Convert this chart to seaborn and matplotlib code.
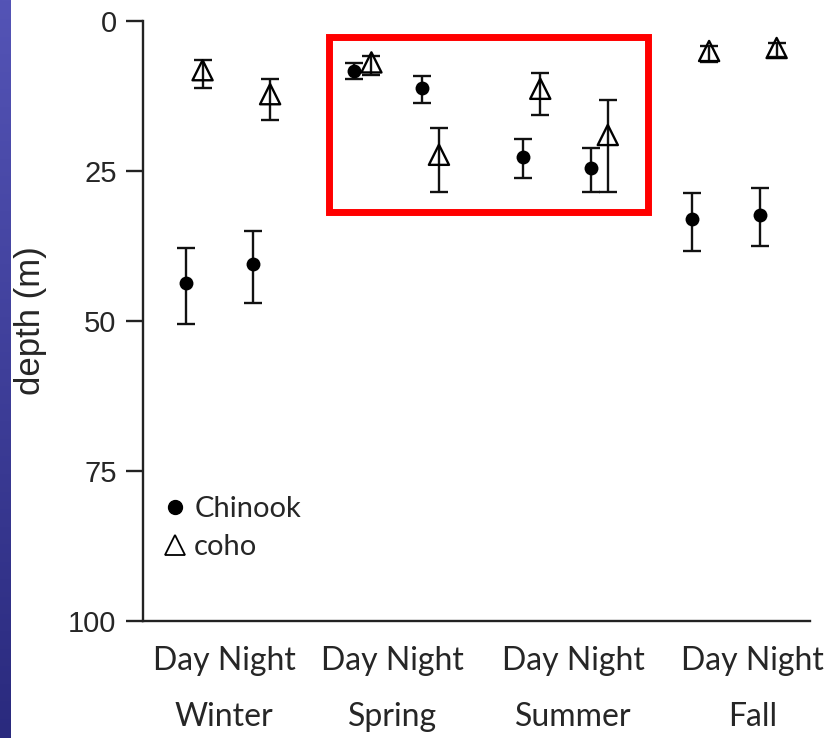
import numpy as np
import pandas as pd
import matplotlib
matplotlib.use("Agg")
import matplotlib.pyplot as plt
import seaborn as sns
from matplotlib.lines import Line2D
from matplotlib.patches import Rectangle

# ---- data ----
seasons = ["Winter", "Spring", "Summer", "Fall"]
times = ["Day", "Night"]
chinook_mean = [43.7, 40.5, 8.3, 11.2, 22.7, 24.5, 33.0, 32.3]
chinook_lo = [37.8, 35.0, 7.0, 9.2, 19.7, 21.2, 28.6, 27.9]
chinook_hi = [50.5, 47.0, 9.7, 13.7, 26.1, 28.5, 38.3, 37.5]
coho_mean = [8.2, 12.2, 6.9, 22.3, 11.3, 19.0, 5.0, 4.5]
coho_lo = [6.5, 9.7, 5.8, 17.8, 8.7, 13.2, 4.1, 3.6]
coho_hi = [11.2, 16.5, 9.0, 28.5, 15.6, 28.5, 6.8, 6.0]
yticks = [0, 25, 50, 75, 100]

# ---- layout helpers ----
season_gap = 2.5
offset = 0.126
base_x = [season_gap * s + t for s in range(len(seasons)) for t in range(len(times))]

rows = []
for i, bx in enumerate(base_x):
    rows.append(dict(species="Chinook", x=bx - offset, depth=chinook_mean[i],
                     lo=chinook_lo[i], hi=chinook_hi[i]))
    rows.append(dict(species="coho", x=bx + offset, depth=coho_mean[i],
                     lo=coho_lo[i], hi=coho_hi[i]))
df = pd.DataFrame(rows)

sns.set_style("white")
plt.rcParams["font.family"] = ["Liberation Sans", "DejaVu Sans"]

W, H = 828, 738
fig = plt.figure(figsize=(W / 100, H / 100), dpi=100)
fig.patch.set_facecolor("white")

# left decorative gradient strip
sax = fig.add_axes([0, 0, 11 / W, 1])
grad = np.linspace(0, 1, 256)[:, None]
top = np.array([84, 84, 182]) / 255
bot = np.array([42, 42, 126]) / 255
img = top[None, None, :] * (1 - grad[:, :, None]) + bot[None, None, :] * grad[:, :, None]
sax.imshow(img, aspect="auto", extent=[0, 1, 0, 1])
sax.axis("off")

ax = fig.add_axes([143 / W, 1 - 621 / H, (810 - 143) / W, 600 / H])

lw = 1.7
for sp, sub in df.groupby("species"):
    ax.errorbar(sub["x"], sub["depth"],
                yerr=[sub["depth"] - sub["lo"], sub["hi"] - sub["depth"]],
                fmt="none", ecolor="#111111", elinewidth=lw, capsize=6.5,
                capthick=lw, zorder=2)

chin = df[df.species == "Chinook"]
coho = df[df.species == "coho"]
sns.scatterplot(data=chin, x="x", y="depth", marker="o", s=100, color="black",
                edgecolor="black", linewidth=0, ax=ax, zorder=3, legend=False)
sns.scatterplot(data=coho, x="x", y="depth", marker="^", s=210, facecolors="none",
                edgecolor="black", linewidth=1.7, ax=ax, zorder=3, legend=False)

ax.set_xlim(-0.756, 9.12)
ax.set_ylim(100, 0)
ax.set_yticks(yticks)
ax.set_yticklabels([str(v) for v in yticks], fontsize=21)
ax.tick_params(axis="y", length=12, width=lw, pad=7, color="#222222", direction="out", left=True)

xt = [0.444, 2.933, 5.622, 8.266]
ax.set_xticks(xt)
ax.set_xticklabels([f"Day Night\n{s}" for s in seasons], fontsize=23,
                   family=["Lato", "DejaVu Sans"], linespacing=2.1)
ax.tick_params(axis="x", length=0, pad=18)

ax.set_xlabel("")
ax.set_ylabel("depth (m)", fontsize=25, labelpad=15)

for s in ["top", "right"]:
    ax.spines[s].set_visible(False)
for s in ["left", "bottom"]:
    ax.spines[s].set_linewidth(lw)
    ax.spines[s].set_color("#222222")

# red highlight box
ax.add_patch(Rectangle((1.992, 2.67), 6.725 - 1.992, 31.9 - 2.67, fill=False,
                       edgecolor="#ff0000", linewidth=5, clip_on=False, zorder=4))

handles = [
    Line2D([], [], marker="o", color="black", linestyle="none", markersize=10),
    Line2D([], [], marker="^", markerfacecolor="none", markeredgecolor="black",
           markeredgewidth=1.3, linestyle="none", markersize=14),
]
leg = ax.legend(handles, ["Chinook", "coho"], loc="upper left",
                bbox_to_anchor=(0.009, 0.227), frameon=False,
                prop={"family": ["Lato", "DejaVu Sans"], "size": 21},
                handletextpad=0.15, handlelength=1.0, labelspacing=0.4,
                borderaxespad=0)

fig.savefig("out.png", dpi=100, facecolor="white")
